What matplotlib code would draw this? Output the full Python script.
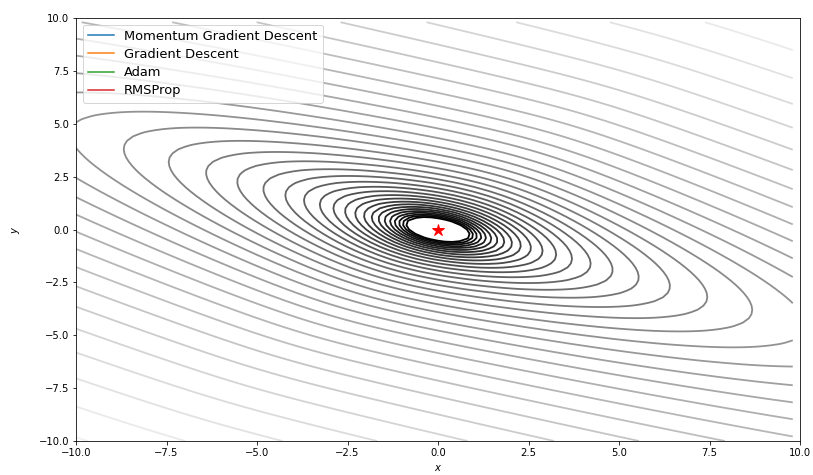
import numpy as np
import matplotlib
matplotlib.use("Agg")
import matplotlib.pyplot as plt
from matplotlib.colors import LogNorm

# grid of the loss surface (ends at 9.8, like np.arange)
x_vals = np.arange(-10, 10, 0.2)
y_vals = np.arange(-10, 10, 0.2)

# shape of the surface
slope_w = 1.4      # direction of the slow term
cross_w = 4.4      # weight of the slow (long axis) term
smooth_d = 4.0     # smoothing of the |.| term near the minimum
scale = 0.76
levels = np.logspace(0, 3, 36)

minimum = [0.0, 0.0]
labels = ["Momentum Gradient Descent", "Gradient Descent", "Adam", "RMSProp"]


def loss(x, y):
    u = x + 2 * y
    w = slope_w * x - y
    return scale * (u ** 2 + cross_w * (np.sqrt(w ** 2 + smooth_d ** 2) - smooth_d))


X, Y = np.meshgrid(x_vals, y_vals)
Z = loss(X, Y)

fig = plt.figure(figsize=(813 / 72, 475 / 72), dpi=72)
ax = fig.add_axes([76 / 813, 34 / 475, 724 / 813, 423 / 475])

ax.contour(X, Y, Z, levels=levels, norm=LogNorm(), cmap="gray", linewidths=1.8)

# optimizer paths (empty here, only in legend)
for lab in labels:
    ax.plot([], [], label=lab)

ax.plot(minimum[0], minimum[1], "r*", markersize=13)

ax.set_xlim(-10, 10)
ax.set_ylim(-10, 10)
ax.set_xlabel("$x$", labelpad=5)
ax.set_ylabel("$y$", labelpad=16)
ax.legend(loc="upper left", fontsize=13, labelspacing=0.4)

fig.savefig("out.png", dpi=72)
